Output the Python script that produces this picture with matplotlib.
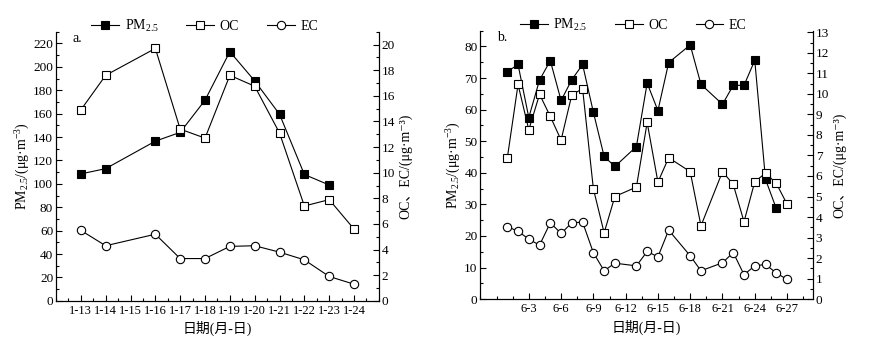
import numpy as np
import matplotlib
matplotlib.use("Agg")
import matplotlib.pyplot as plt
from matplotlib.ticker import MultipleLocator

plt.rcParams['font.family'] = ['Liberation Serif', 'DejaVu Serif', 'Noto Sans CJK SC']
plt.rcParams['mathtext.fontset'] = 'custom'
plt.rcParams['mathtext.rm'] = 'Liberation Serif'
plt.rcParams['mathtext.it'] = 'Liberation Serif:italic'
plt.rcParams['font.size'] = 9

# ---- a: January ----
jan_pm_days = [13, 14, 16, 17, 18, 19, 20, 21, 22, 23]
jan_pm = [108.5, 113, 136.5, 144, 171.5, 213, 188, 159.5, 108, 99]
jan_days = [13, 14, 16, 17, 18, 19, 20, 21, 22, 23, 24]
jan_oc = [14.9, 17.6, 19.7, 13.4, 12.7, 17.6, 16.75, 13.1, 7.4, 7.9, 5.6]
jan_ec = [5.5, 4.3, 5.2, 3.3, 3.3, 4.25, 4.3, 3.8, 3.2, 1.9, 1.3]
jan_ticks = list(range(13, 25))
jan_labels = ['1-%d' % d for d in jan_ticks]

# ---- b: June ----
jun_pm_days = [1, 2, 3, 4, 5, 6, 7, 8, 9, 10, 11, 13, 14, 15, 16, 18, 19, 21, 22, 23, 24, 25, 26]
jun_pm = [72, 74.3, 57.5, 69.4, 75.5, 62.9, 69.5, 74.3, 59.2, 45.2, 42, 48.3, 68.4, 59.7,
          74.9, 80.5, 68, 61.7, 67.7, 67.7, 75.6, 37.9, 28.7]
jun_days = [1, 2, 3, 4, 5, 6, 7, 8, 9, 10, 11, 13, 14, 15, 16, 18, 19, 21, 22, 23, 24, 25, 26, 27]
jun_oc = [6.86, 10.46, 8.25, 9.98, 8.9, 7.75, 9.96, 10.25, 5.38, 3.23, 5.0, 5.46, 8.61, 5.7,
          6.89, 6.21, 3.57, 6.21, 5.59, 3.77, 5.72, 6.14, 5.64, 4.63]
jun_ec = [3.53, 3.31, 2.92, 2.63, 3.72, 3.2, 3.72, 3.75, 2.26, 1.38, 1.75, 1.62, 2.32, 2.06,
          3.36, 2.11, 1.38, 1.77, 2.27, 1.19, 1.62, 1.69, 1.27, 0.96]
jun_ticks = list(range(3, 28, 3))
jun_labels = ['6-%d' % d for d in jun_ticks]

fig = plt.figure(figsize=(8.75, 3.49), dpi=100)
ax1 = fig.add_axes([0.064, 0.138, 0.369, 0.771])
ax3 = fig.add_axes([0.549, 0.143, 0.380, 0.769])

ms = 5.5
lw = 0.8
pm_style = dict(color='k', lw=lw, marker='s', ms=ms, mfc='k', mec='k', mew=0.8)
oc_style = dict(color='k', lw=lw, marker='s', ms=ms, mfc='white', mec='k', mew=0.8)
ec_style = dict(color='k', lw=lw, marker='o', ms=ms + 0.5, mfc='white', mec='k', mew=0.8)

panels = [
    (ax1, jan_pm_days, jan_pm, jan_days, jan_oc, jan_ec, (12, 25), (0, 230), (0, 21),
     20, 10, 2, 1, jan_ticks, jan_labels, 0.5, 'a.'),
    (ax3, jun_pm_days, jun_pm, jun_days, jun_oc, jun_ec, (-1.5, 29.4), (0, 85), (0, 13.08),
     10, 5, 1, 0.5, jun_ticks, jun_labels, 1.5, 'b.'),
]

for ax, pd_, pm, d, oc, ec, xl, yl, yr, ymaj, ymin, rmaj, rmin, ticks, labels, xmin, tag in panels:
    ax2 = ax.twinx()
    l1, = ax.plot(pd_, pm, label='PM$_{2.5}$', **pm_style)
    l2, = ax2.plot(d, oc, label='OC', **oc_style)
    l3, = ax2.plot(d, ec, label='EC', **ec_style)
    ax.set_xlim(*xl)
    ax.set_ylim(*yl)
    ax2.set_ylim(*yr)
    ax.set_xticks(ticks)
    ax.set_xticklabels(labels)
    ax.xaxis.set_minor_locator(MultipleLocator(xmin))
    ax.yaxis.set_major_locator(MultipleLocator(ymaj))
    ax.yaxis.set_minor_locator(MultipleLocator(ymin))
    ax2.yaxis.set_major_locator(MultipleLocator(rmaj))
    ax2.yaxis.set_minor_locator(MultipleLocator(rmin))
    for a in (ax, ax2):
        a.spines['top'].set_visible(False)
        for s in a.spines.values():
            s.set_linewidth(0.8)
        a.tick_params(which='major', direction='in', length=4, width=0.8, labelsize=9.5, pad=2)
        a.tick_params(which='minor', direction='in', length=2, width=0.8)
    ax.tick_params(axis='x', labelsize=9, pad=3)
    ax.set_ylabel('PM$_{2.5}$/(μg·m$^{-3}$)', fontsize=10, labelpad=1)
    ax2.set_ylabel('OC、EC/(μg·m⁻³)', fontsize=10, labelpad=3)
    ax.set_xlabel('日期(月-日)', fontsize=10, labelpad=3)
    ax.text(0.05, 0.975, tag, transform=ax.transAxes, fontsize=10, va='center')
    ax.legend(handles=[l1, l2, l3], loc='lower center', bbox_to_anchor=(0.46, 0.99), ncol=3,
              frameon=False, fontsize=10, handlelength=2.0, handletextpad=0.4,
              columnspacing=2.0, borderaxespad=0, borderpad=0)

fig.savefig('out.png', dpi=100)
